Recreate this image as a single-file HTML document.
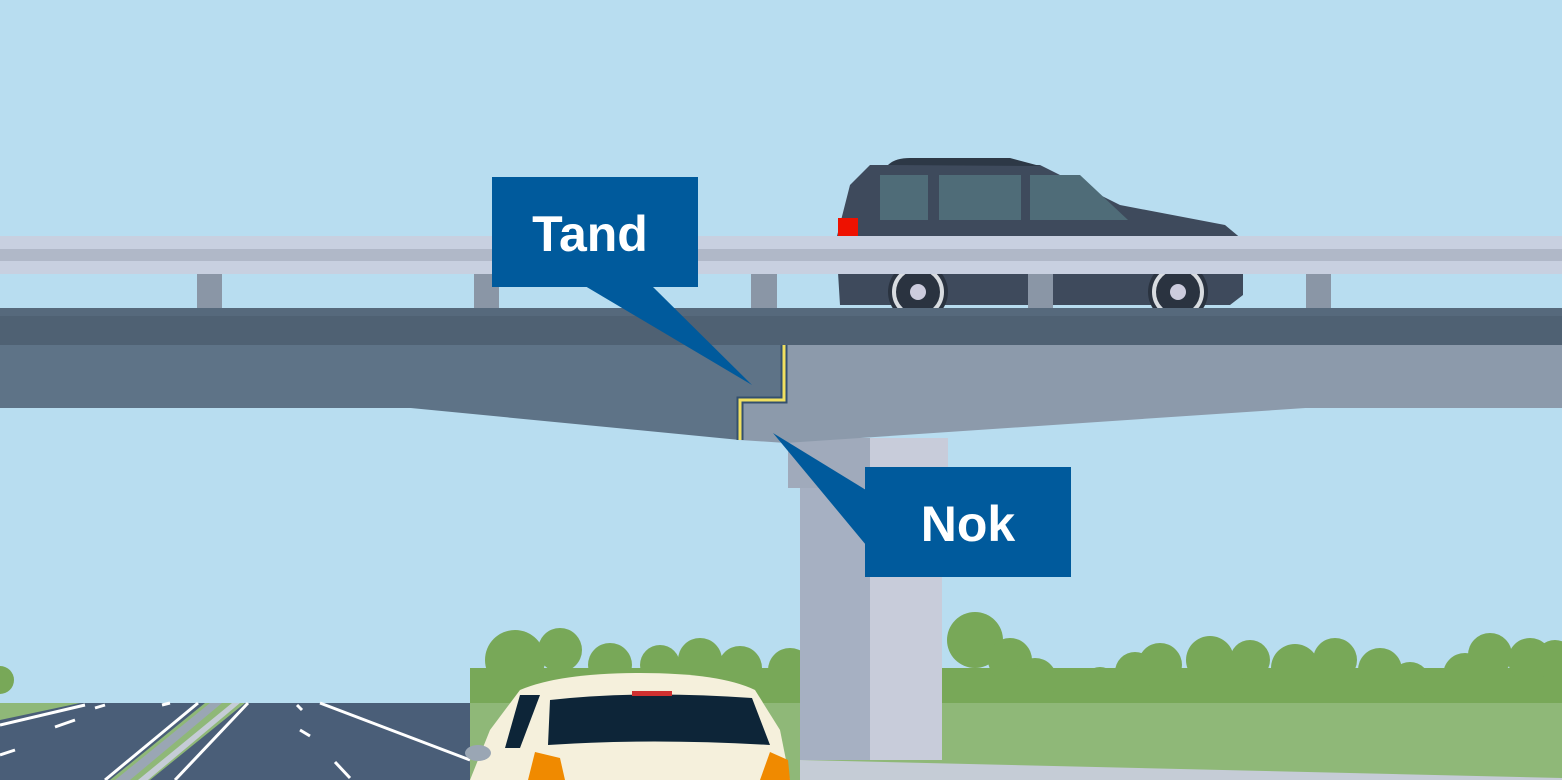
<!DOCTYPE html>
<html><head><meta charset="utf-8"><style>
html,body{margin:0;padding:0;width:1562px;height:780px;overflow:hidden;background:#b8ddf0}
svg{display:block}
text{font-family:"Liberation Sans",sans-serif;font-weight:bold;fill:#fff}
</style></head><body>
<svg width="1562" height="780" viewBox="0 0 1562 780" xmlns="http://www.w3.org/2000/svg">
<rect width="1562" height="780" fill="#b8ddf0"/>
<!-- trees -->
<g fill="#78a858">
<rect x="470" y="668" width="1092" height="40"/>
<circle cx="515" cy="660" r="30"/><circle cx="560" cy="650" r="22"/><circle cx="610" cy="665" r="22"/>
<circle cx="660" cy="665" r="20"/><circle cx="700" cy="660" r="22"/><circle cx="740" cy="668" r="22"/>
<circle cx="790" cy="670" r="22"/><circle cx="0" cy="680" r="14"/>
<circle cx="975" cy="640" r="28"/><circle cx="1010" cy="660" r="22"/><circle cx="1035" cy="680" r="22"/>
<circle cx="1160" cy="665" r="22"/><circle cx="1210" cy="660" r="24"/><circle cx="1250" cy="660" r="20"/>
<circle cx="1295" cy="668" r="24"/><circle cx="1335" cy="660" r="22"/><circle cx="1380" cy="670" r="22"/>
<circle cx="1410" cy="682" r="20"/><circle cx="1490" cy="655" r="22"/><circle cx="1530" cy="660" r="22"/><circle cx="1555" cy="660" r="20"/>
<circle cx="1465" cy="675" r="22"/><circle cx="1100" cy="685" r="18"/><circle cx="1135" cy="672" r="20"/>
</g>
<!-- ground -->
<rect x="0" y="703" width="1562" height="77" fill="#8fb878"/>
<!-- road -->
<polygon points="0,720 80,703 470,703 470,780 0,780" fill="#4a5e78"/>
<polygon points="205,703 245,703 150,780 110,780" fill="#8fb878"/>
<polygon points="210,703 222,703 130,780 115,780" fill="#9aa6b4"/>
<polygon points="232,703 240,703 148,780 138,780" fill="#c5ccd6"/>
<g stroke="#fff" stroke-width="3">
<line x1="0" y1="725" x2="85" y2="705"/><line x1="198" y1="703" x2="105" y2="780"/>
<line x1="248" y1="703" x2="175" y2="780"/><line x1="320" y1="703" x2="470" y2="760"/>
<line x1="55" y1="727" x2="75" y2="720"/><line x1="0" y1="755" x2="15" y2="750"/>
<line x1="95" y1="708" x2="105" y2="705"/><line x1="162" y1="705" x2="170" y2="703"/>
<line x1="300" y1="730" x2="310" y2="736"/><line x1="335" y1="762" x2="350" y2="778"/><line x1="297" y1="705" x2="302" y2="710"/>
</g>
<polygon points="800,760 1562,778 1562,780 800,780" fill="#c5ccd6"/>
<!-- pier -->
<rect x="800" y="485" width="140" height="275" fill="#a6b0c2"/>
<rect x="870" y="485" width="72" height="275" fill="#c8ccda"/>
<rect x="788" y="438" width="160" height="50" fill="#a0aabb"/>
<rect x="870" y="438" width="78" height="50" fill="#c8ccda"/>
<!-- car top -->
<g>
<path d="M850,185 L870,165 L1040,165 L1120,205 L1225,225 L1243,240 L1243,295 L1230,305 L840,305 L836,240 Z" fill="#3e4a5c"/>
<path d="M888,165 Q895,158 910,158 L1010,158 L1040,166 Z" fill="#2d3846"/>
<rect x="880" y="175" width="48" height="45" fill="#4f6c78"/>
<rect x="939" y="175" width="82" height="45" fill="#4f6c78"/>
<polygon points="1030,175 1080,175 1128,220 1030,220" fill="#4f6c78"/>
<rect x="838" y="218" width="20" height="18" fill="#ee1100"/>
<circle cx="918" cy="292" r="30" fill="#2a3340"/><circle cx="918" cy="292" r="24" fill="none" stroke="#d8dce0" stroke-width="4"/><circle cx="918" cy="292" r="8" fill="#ccd"/>
<circle cx="1178" cy="292" r="30" fill="#2a3340"/><circle cx="1178" cy="292" r="24" fill="none" stroke="#d8dce0" stroke-width="4"/><circle cx="1178" cy="292" r="8" fill="#ccd"/>
</g>
<!-- girder haunch -->
<polygon points="0,405 380,405 740,440 740,405" fill="#5e7387"/>
<polygon points="785,405 1350,405 785,443" fill="#8c9aab"/>
<!-- girder -->
<rect x="0" y="345" width="786" height="63" fill="#5e7387"/>
<rect x="786" y="345" width="776" height="63" fill="#8c9aab"/>
<polygon points="740,400 786,400 786,443 740,440" fill="#8c9aab"/>
<rect x="0" y="308" width="1562" height="37" fill="#4f6173"/>
<rect x="0" y="308" width="1562" height="8" fill="#56697c"/>
<!-- joint -->
<polyline points="784,345 784,400 740,400 740,440" fill="none" stroke="#34506e" stroke-width="7"/>
<polyline points="784,345 784,400 740,400 740,440" fill="none" stroke="#f0e060" stroke-width="3"/>
<!-- railing -->
<rect x="0" y="236" width="1562" height="38" fill="#c8d0e0"/>
<rect x="0" y="249" width="1562" height="12" fill="#b0b8c8"/>
<g fill="#8a96a6">
<rect x="197" y="274" width="25" height="34"/><rect x="474" y="274" width="25" height="34"/>
<rect x="751" y="274" width="26" height="34"/><rect x="1028" y="274" width="25" height="34"/>
<rect x="1306" y="274" width="25" height="34"/>
</g>
<!-- callouts -->
<polygon points="585,286 652,286 752,385" fill="#005a9c"/>
<rect x="492" y="177" width="206" height="110" fill="#005a9c"/>
<text x="590" y="251" font-size="50" text-anchor="middle">Tand</text>
<polygon points="866,490 866,545 773,433" fill="#005a9c"/>
<rect x="865" y="467" width="206" height="110" fill="#005a9c"/>
<text x="968" y="541" font-size="50" text-anchor="middle">Nok</text>
<!-- car bottom -->
<path d="M470,780 L490,730 L520,690 Q560,673 640,673 Q720,673 755,690 L780,730 L790,780 Z" fill="#f5f0dc"/>
<path d="M550,700 Q640,690 752,698 L770,745 Q650,738 548,745 Z" fill="#0d2538"/>
<path d="M520,695 L540,695 L520,748 L505,748 Z" fill="#0d2538"/>
<rect x="632" y="691" width="40" height="5" fill="#d03030"/>
<path d="M535,752 L560,758 L565,780 L528,780 Z" fill="#f08a00"/>
<path d="M770,752 L788,760 L790,780 L760,780 Z" fill="#f08a00"/>
<ellipse cx="478" cy="753" rx="13" ry="8" fill="#9aa6b4"/>
</svg>
</body></html>
